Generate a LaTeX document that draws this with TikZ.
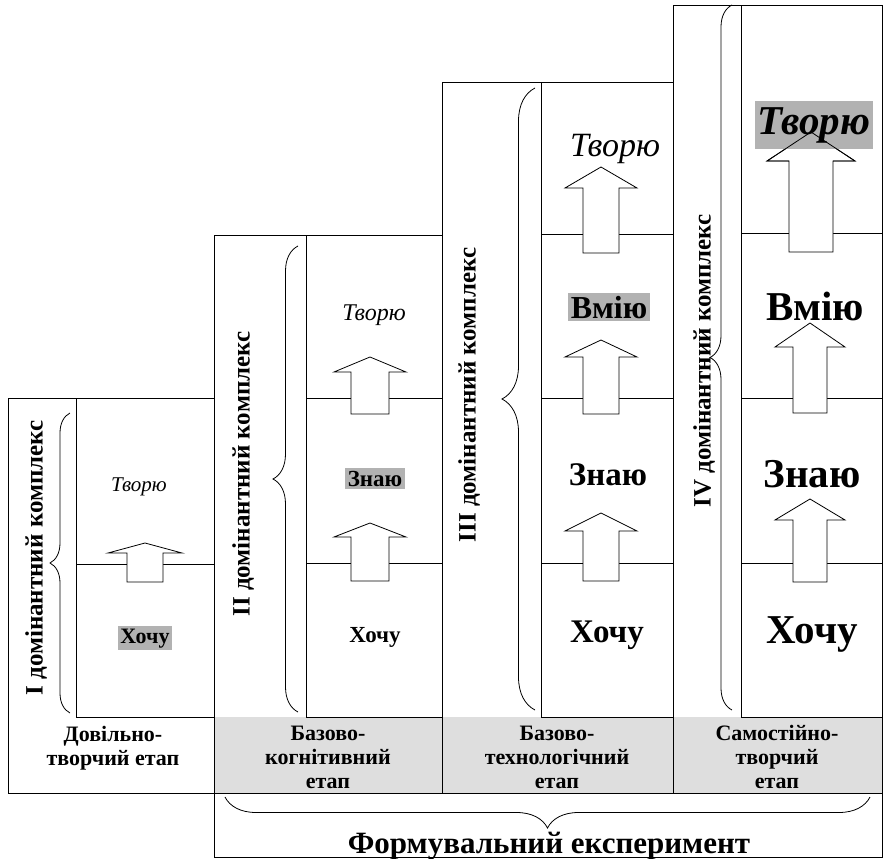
\documentclass[tikz,border=0pt]{standalone}
\usepackage{fontspec}
\setmainfont{Liberation Serif}
\usetikzlibrary{decorations.pathreplacing}

\tikzset{
  frame/.style={line width=0.8pt},
  band/.style={fill=black!13},
  arrbox/.style={line width=0.8pt, fill=white},
  hl/.style={fill=black!30, inner sep=2.5pt},
  crly/.style={decorate, decoration={brace, amplitude=#1}, line width=0.8pt},
  vlabel/.style={rotate=90, font=\bfseries\fontsize{25}{28}\selectfont},
  stage/.style={align=center, font=\bfseries\fontsize{22}{24}\selectfont},
}

\newcommand{\fsz}[1]{\fontsize{#1}{#1}\selectfont}
% block arrow: x, tip, head base, bottom, half head, half shaft
\newcommand{\blockarr}[6]{%
  \draw[arrbox] (#1-#6,#4) -- (#1-#6,#3) -- (#1-#5,#3) -- (#1,#2)
    -- (#1+#5,#3) -- (#1+#6,#3) -- (#1+#6,#4) -- cycle;}

\begin{document}
\begin{tikzpicture}[x=1pt, y=-1pt]
  \useasboundingbox (0,0) rectangle (887,859);

  % stage band
  \fill[band] (214,717) rectangle (882,793);

  % Draw the columns
  \draw[frame] (8,398) rectangle (214,793);
  \draw[frame] (76,398) rectangle (214,717);
  \draw[frame] (76,564) -- (214,564);

  \draw[frame] (214,235) rectangle (442,793);
  \draw[frame] (306,235) rectangle (442,717);
  \draw[frame] (306,398) -- (442,398);
  \draw[frame] (306,563) -- (442,563);

  \draw[frame] (442,82) rectangle (673,793);
  \draw[frame] (541,82) rectangle (673,717);
  \draw[frame] (541,234) -- (673,234);
  \draw[frame] (541,398) -- (673,398);
  \draw[frame] (541,563) -- (673,563);

  \draw[frame] (673,5) rectangle (882,793);
  \draw[frame] (741,5) rectangle (882,717);
  \draw[frame] (741,233) -- (882,233);
  \draw[frame] (741,398) -- (882,398);
  \draw[frame] (741,563) -- (882,563);

  \draw[frame] (214,793) rectangle (882,857);

  % braces
  \draw[crly=20] (70,713) -- (70,413);
  \draw[crly=25] (298,712) -- (298,246);
  \draw[crly=33] (535,710) -- (535,88);
  \draw[crly=22] (732,710) -- (732,5);
  \draw[crly=31] (870,797) -- (225,797);

  % arrows
  \blockarr{145}{543}{553}{582}{37}{18}
  \blockarr{370}{357}{372}{414}{36}{19}
  \blockarr{370}{523}{537}{581}{36}{19}
  \blockarr{601}{167}{188}{253}{36}{18}
  \blockarr{601}{340}{357}{414}{36}{18}
  \blockarr{601}{513}{531}{581}{36}{18}
  \blockarr{811}{132}{161}{252}{44}{22}
  \blockarr{810}{323}{347}{413}{35}{17}
  \blockarr{810}{499}{520}{582}{35}{17}

  % words
  \node[anchor=base, font=\itshape\fsz{21}] (cre1) at (139,491) {Творю};
  \node[anchor=base, hl, font=\bfseries\fsz{22}] (want1) at (145,643) {Хочу};

  \node[anchor=base, font=\itshape\fsz{24}] (cre2) at (374,320) {Творю};
  \node[anchor=base, hl, font=\bfseries\fsz{23}] (know2) at (375,486) {Знаю};
  \node[anchor=base, font=\bfseries\fsz{23}] (want2) at (375,642) {Хочу};

  \node[anchor=base, font=\itshape\fsz{34}] (cre3) at (615,157) {Творю};
  \node[anchor=base, hl, font=\bfseries\fsz{32}] (can3) at (609,318) {Вмію};
  \node[anchor=base, font=\bfseries\fsz{33}] (know3) at (608,485) {Знаю};
  \node[anchor=base, font=\bfseries\fsz{33}] (want3) at (607,642) {Хочу};

  \node[anchor=base, hl, inner ysep=6pt, font=\bfseries\itshape\fsz{41}] (cre4) at (814,134) {Творю};
  \node[anchor=base, font=\bfseries\fsz{41}] (can4) at (815,320) {Вмію};
  \node[anchor=base, font=\bfseries\fsz{41}] (know4) at (812,487) {Знаю};
  \node[anchor=base, font=\bfseries\fsz{41}] (want4) at (812,643) {Хочу};
  \draw[line width=0.8pt] (811-22,161) -- (811-44,161) -- (811,132) -- (811+44,161) -- (811+22,161);

  % complexes
  \node[vlabel] (dom1) at (36,558) {І домінантний комплекс};
  \node[vlabel] (dom2) at (243,474) {ІІ домінантний комплекс};
  \node[vlabel] (dom3) at (469,395) {ІІІ домінантний комплекс};
  \node[vlabel] (dom4) at (704,361) {IV домінантний комплекс};

  % stages
  \node[stage] (st1) at (113,748) {Довільно-\\творчий етап};
  \node[stage] (st2) at (328,757) {Базово-\\когнітивний\\етап};
  \node[stage] (st3) at (557,757) {Базово-\\технологічний\\етап};
  \node[stage] (st4) at (777,757) {Самостійно-\\творчий\\етап};

  \node[anchor=base, font=\bfseries\fsz{31}] (exp) at (549,853) {Формувальний експеримент};

\end{tikzpicture}
\end{document}
